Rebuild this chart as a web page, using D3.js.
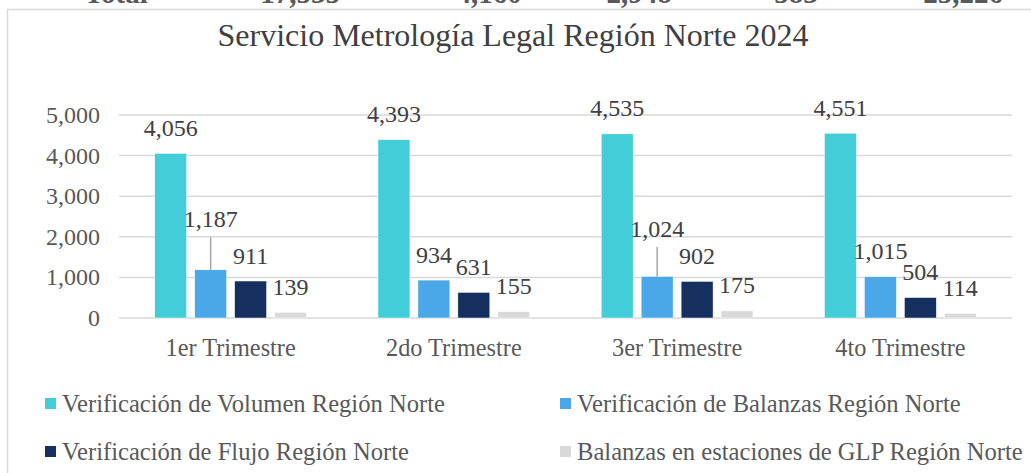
<!DOCTYPE html>
<html><head><meta charset="utf-8">
<script src="https://cdn.jsdelivr.net/npm/d3@7"></script>
<style>body{margin:0;background:#fff}svg{display:block}</style>
</head><body><svg id="c" width="1031" height="473"></svg>
<script>
const categories = ["1er Trimestre","2do Trimestre","3er Trimestre","4to Trimestre"];
const seriesNames = ["Verificación de Volumen Región Norte","Verificación de Balanzas Región Norte","Verificación de Flujo Región Norte","Balanzas en estaciones de GLP Región Norte"];
const volumen  = [4056,4393,4535,4551];
const balanzas = [1187,934,1024,1015];
const flujo    = [911,631,902,504];
const glp      = [139,155,175,114];
const yTicks   = [0,1000,2000,3000,4000,5000];
const title    = "Servicio Metrología Legal Región Norte 2024";
const colors   = ["#43CDD9","#4AA8E8","#15305F","#D9D9D9"];
// extra lift for labels that Excel moved up (with leader line); layout only
const labelLift = [[0,25,0,0],[0,0,0,0],[0,22,0,0],[0,0,0,0]];

const series = [volumen,balanzas,flujo,glp];
const svg = d3.select("#c");
const serif = "'Liberation Serif','Times New Roman',serif";

function txt(g, x, y, s, size, fill, anchor, weight){
  return g.append("text").attr("x",x).attr("y",y)
    .attr("text-anchor",anchor||"middle").attr("font-family",serif)
    .attr("font-size",size).attr("font-weight",weight||"normal").attr("fill",fill).text(s);
}

// cut-off totals row at very top (partially visible, as in the source)
const totals = [d3.sum(volumen),d3.sum(balanzas),d3.sum(flujo),d3.sum(glp)];
const totalRow = ["Total"].concat(totals.map(d3.format(",")), [d3.format(",")(d3.sum(totals))]);
const totalX = [116,300,489,639,796,963];
totalRow.forEach((t,i)=>txt(svg,totalX[i],3,t,29,"#595959","middle","bold"));

// chart area border
svg.append("rect").attr("x",7.5).attr("y",9.5).attr("width",1100).attr("height",600)
  .attr("fill","#fff").attr("stroke","#d9d9d9").attr("stroke-width",1.5);

txt(svg,513,46,title,32,"#404040");

const x0 = d3.scaleBand().domain(categories).range([119,1012]).paddingInner(0.32).paddingOuter(0.16);
const x1 = d3.scaleBand().domain(d3.range(4)).range([0,x0.bandwidth()]).paddingInner(0.2).paddingOuter(0);
const y = d3.scaleLinear().domain([0,5000]).range([318,115]);

// gridlines
svg.append("g").selectAll("line").data(yTicks).join("line")
  .attr("x1",119).attr("x2",1012).attr("y1",d=>y(d)).attr("y2",d=>y(d))
  .attr("stroke","#d9d9d9").attr("stroke-width",1.5);

// y labels
yTicks.forEach(t=>txt(svg,100,y(t)+8,d3.format(",")(t),24,"#595959","end"));

// bars
categories.forEach((c,ci)=>{
  const g = svg.append("g").attr("transform",`translate(${x0(c)},0)`);
  series.forEach((s,si)=>{
    const v = s[ci];
    const bx = x1(si), bw = x1.bandwidth();
    g.append("rect").attr("x",bx).attr("y",y(v)).attr("width",bw).attr("height",y(0)-y(v))
      .attr("fill",colors[si]).attr("stroke","#fff").attr("stroke-width",0.5);
    const lift = labelLift[ci][si];
    const ly = y(v) - 17.5 - lift;
    if(lift>0){
      g.append("line").attr("x1",bx+bw/2).attr("x2",bx+bw/2).attr("y1",ly+10).attr("y2",y(v))
        .attr("stroke","#a6a6a6").attr("stroke-width",1.5);
    }
    txt(g,bx+bw/2,ly,d3.format(",")(v),24,"#404040");
  });
  txt(svg,x0(c)+x0.bandwidth()/2,356,c,24.3,"#595959");
});

// legend
const legPos = [[45,404],[560,404],[45,452],[560,452]];
seriesNames.forEach((n,i)=>{
  const [lx,ly] = legPos[i];
  svg.append("rect").attr("x",lx).attr("y",ly-6).attr("width",11).attr("height",11).attr("fill",colors[i]);
  txt(svg,lx+17,ly+8,n,24.6,"#595959","start");
});
</script></body></html>
